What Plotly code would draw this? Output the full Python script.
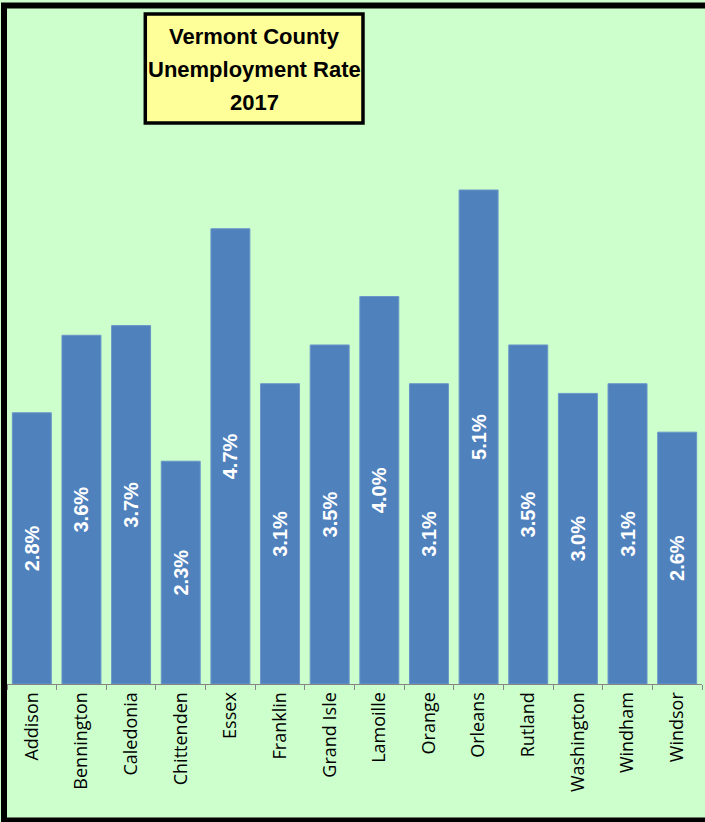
import plotly.graph_objects as go

counties = ["Addison", "Bennington", "Caledonia", "Chittenden", "Essex", "Franklin",
            "Grand Isle", "Lamoille", "Orange", "Orleans", "Rutland", "Washington",
            "Windham", "Windsor"]
rates = [2.8, 3.6, 3.7, 2.3, 4.7, 3.1, 3.5, 4.0, 3.1, 5.1, 3.5, 3.0, 3.1, 2.6]
labels = [f"{v:.1f}%" for v in rates]
title_lines = ["Vermont County", "Unemployment Rate", "2017"]

W, H = 705, 822
ML, MR, MT, MB = 6.5, 2.5, 100, 138
PW, PH = W - ML - MR, H - MT - MB


def px(x):
    return (x - ML) / PW


def py(y):
    return (H - MB - y) / PH


fig = go.Figure(go.Bar(
    x=counties, y=rates, text=labels,
    textposition="inside", insidetextanchor="middle", textangle=-90,
    textfont=dict(family="Liberation Sans, Arial", size=20, color="white", weight="bold"),
    marker=dict(color="#4F81BD", line=dict(color="#6A96C9", width=1)),
    cliponaxis=False,
))

fig.update_layout(
    width=W, height=H,
    margin=dict(l=ML, r=MR, t=MT, b=MB, pad=0),
    paper_bgcolor="#CCFFCC", plot_bgcolor="#CCFFCC",
    bargap=0.215, showlegend=False,
    uniformtext=dict(mode=False),
)
fig.update_xaxes(
    type="category", range=[-0.5, 13.5],
    showline=True, linecolor="#868686", linewidth=1,
    ticks="outside", ticklen=5, tickcolor="#868686", tickson="boundaries",
    tickangle=-90, tickfont=dict(family="Open Sans", size=18, color="black"),
    showgrid=False,
)
fig.update_yaxes(range=[0, 5.1 * PH / 494], visible=False, showgrid=False, zeroline=False)

shapes = [
    dict(type="rect", xref="paper", yref="paper",
         x0=px(3.5), x1=px(712), y0=py(5.5), y1=py(820.5),
         line=dict(color="black", width=6), fillcolor="rgba(0,0,0,0)", layer="above"),
    dict(type="rect", xref="paper", yref="paper",
         x0=px(145), x1=px(363), y0=py(14), y1=py(123),
         line=dict(color="black", width=3.5), fillcolor="#FFFF99", layer="above"),
]
annotations = []
for line, yc in zip(title_lines, [37, 70, 102]):
    annotations.append(dict(
        text=f"<b>{line}</b>", xref="paper", yref="paper",
        x=px(254), y=py(yc), xanchor="center", yanchor="middle", showarrow=False,
        font=dict(family="Liberation Sans, Arial", size=22, color="black"),
    ))
fig.update_layout(shapes=shapes, annotations=annotations)

fig.write_html("out.html", config={"displayModeBar": False},
               post_script="document.body.style.margin='0';document.body.style.overflow='hidden';")
